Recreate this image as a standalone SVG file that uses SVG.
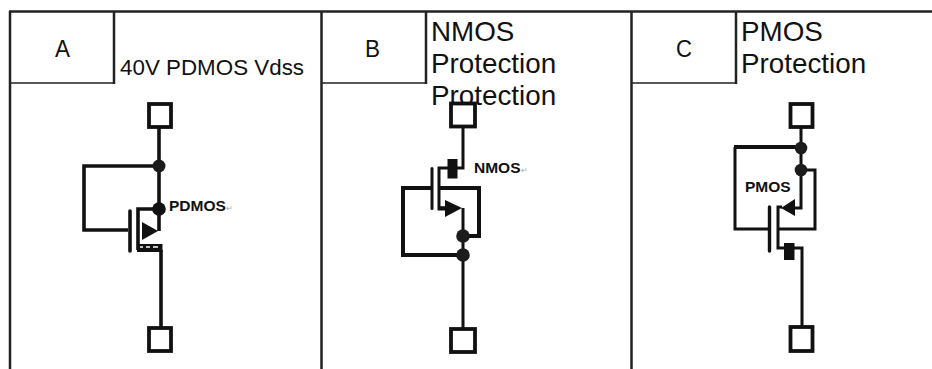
<svg xmlns="http://www.w3.org/2000/svg" width="932" height="369" viewBox="0 0 932 369">
<style>
text{font-family:"Liberation Sans",Arial,sans-serif;fill:#111}
.w,.t,.p,.g{fill:none;stroke:#111;stroke-linejoin:miter}
.w{stroke-width:3.6}
.t{stroke-width:3}
.p{stroke-width:3.8;fill:#fff}
.g{stroke-width:3.6;stroke-linecap:round}
.f{fill:#111}
.d{fill:#1c1c1c}
.frame{fill:none;stroke:#222;stroke-width:2.5}
.cell{fill:none;stroke:#222;stroke-width:1.5}
.big{font-size:27.8px}
.lab{font-size:24px}
.m{font-size:15.500px;font-weight:bold}
.r{font-size:8px;font-weight:normal;fill:#aaa}
</style>
<g id="table">
<path class="frame" d="M9 11.500H932M10 11V369M321.500 11V369M631.500 11V369"/>
<path class="cell" d="M10 83H114M322 83H426M632 83H736"/>
<path class="frame" d="M114 11V84M426 11V84M736 11V84"/>
</g>
<g id="connectors">
<path class="w" d="M159 128V209M159 166H84V230H128M159 209H138V250M159 209V231"/>
<path class="w" d="M161 250V327"/>
<path class="t" d="M463 127V168H457M448 168H439V209H445M463 208V328"/>
<path class="w" d="M432 188H403V255H463" style="stroke-width:4"/>
<path class="w" d="M439 188H479V236H463" style="stroke-width:4"/>
<path class="t" d="M801 127V208H795M801 170H815V229H778M782 207H778V248H784M794 248H802V326"/>
<path class="t" d="M770 229H735V147"/>
<path class="w" d="M734 147H801" style="stroke-width:3.800"/>
</g>
<g id="panel-a">
<text class="lab" x="55" y="57" textLength="15" lengthAdjust="spacingAndGlyphs">A</text>
<text x="120" y="75" font-size="22" textLength="184" lengthAdjust="spacingAndGlyphs">40V PDMOS Vdss</text>
</g>
<g id="panel-b">
<text class="lab" x="365" y="56.500" textLength="15" lengthAdjust="spacingAndGlyphs">B</text>
</g>
<g id="panel-c">
<text class="lab" x="676" y="57" textLength="16" lengthAdjust="spacingAndGlyphs">C</text>
</g>
<g id="a-terminal-top"><rect class="p" x="149" y="104" width="22" height="23"/></g>
<g id="a-terminal-bottom"><rect class="p" x="149" y="328" width="22" height="23"/></g>
<g id="a-pdmos">
<circle class="d" cx="159" cy="166" r="6.500"/>
<circle class="f" cx="159" cy="209" r="6.800"/>
<path class="g" d="M130 211V251"/>
<path class="f" d="M142 222L158 231L142 240Z"/>
<rect class="f" x="137" y="244" width="25.500" height="8"/>
<path d="M140 247H143M146 247H150M153 247H158" stroke="#fff" stroke-width="1.500"/>
<text class="m" x="169" y="210.500">PDMOS<tspan class="r">↵</tspan></text>
</g>
<g id="b-terminal-top"><rect class="p" x="451" y="103.500" width="24" height="23"/></g>
<g id="b-terminal-bottom"><rect class="p" x="451" y="329" width="24" height="23"/></g>
<g id="b-nmos">
<rect class="f" x="447.500" y="159" width="10" height="19.500"/>
<path class="g" d="M432 168.500V208.500" style="stroke-width:3"/>
<path class="f" d="M445 200L462 208L445 217Z"/>
<path class="w" d="M439 208H445"/>
<circle class="d" cx="463" cy="236" r="6.800"/>
<circle class="d" cx="463" cy="255" r="6.800"/>
<text class="m" x="474" y="173">NMOS<tspan class="r">↵</tspan></text>
</g>
<g id="c-terminal-top"><rect class="p" x="790.500" y="104" width="22" height="23"/></g>
<g id="c-terminal-bottom"><rect class="p" x="790.500" y="327" width="22" height="24"/></g>
<g id="c-pmos">
<circle class="d" cx="801" cy="148" r="6.300"/>
<circle class="d" cx="801" cy="170" r="6.300"/>
<path class="g" d="M769.500 207V251" style="stroke-width:3.400"/>
<path class="f" d="M781 208L795 199V216Z"/>
<rect class="f" x="784" y="243" width="10.500" height="17"/>
<text class="m" x="745" y="191.500" font-size="15">PMOS</text>
</g>
<g id="titles">
<text class="big" x="431" y="40.500">NMOS</text>
<text class="big" x="431" y="72.500">Protection</text>
<text class="big" x="431" y="104.500">Protection</text>
<text class="big" x="741" y="40.500">PMOS</text>
<text class="big" x="741" y="72.500">Protection</text>
</g>
</svg>
